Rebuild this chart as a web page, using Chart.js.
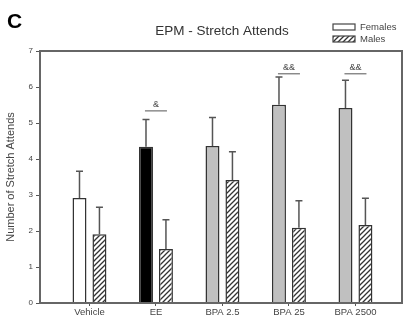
<!DOCTYPE html>
<html lang="en">

<head>
    <meta charset="UTF-8">
    <script src="https://cdn.jsdelivr.net/npm/chart.js@4.4.0/dist/chart.umd.min.js"></script>
    <title>EPM - Stretch Attends</title>
    <style>
        body { margin: 0; background: #fff; }
        canvas { display: block; }
    </style>
</head>

<body>
    <canvas id="myChart" width="406" height="323"></canvas>
    <script>

        // values
        const groups = ['Vehicle', 'EE', 'BPA 2.5', 'BPA 25', 'BPA 2500'];
        const females = [2.92, 4.34, 4.36, 5.51, 5.42];
        const femalesErr = [3.66, 5.10, 5.15, 6.28, 6.19];   // top of error bar
        const males = [1.91, 1.50, 3.42, 2.09, 2.17];
        const malesErr = [2.66, 2.31, 4.20, 2.84, 2.91];
        const femaleColors = ['#ffffff', '#000000', '#c0c0c0', '#c0c0c0', '#c0c0c0'];
        const sigLabels = ['', '&', '', '&&', '&&'];
        const sigLevel = [0, 5.35, 0, 6.38, 6.38];
        const yTicks = [0, 1, 2, 3, 4, 5, 6, 7];

        // diagonal hatch for the males
        function hatch() {
            const c = document.createElement('canvas');
            c.width = 5; c.height = 5;
            const g = c.getContext('2d');
            g.fillStyle = '#fff';
            g.fillRect(0, 0, 5, 5);
            g.strokeStyle = '#333';
            g.lineWidth = 1.3;
            g.beginPath();
            g.moveTo(-1, 6); g.lineTo(6, -1);
            g.moveTo(-1, 1); g.lineTo(1, -1);
            g.moveTo(4, 6); g.lineTo(6, 4);
            g.stroke();
            return g.createPattern(c, 'repeat');
        }
        const ctx = document.getElementById('myChart').getContext('2d');
        const malePattern = hatch();

        // frame, error bars, significance marks, title, legend
        const decor = {
            id: 'decor',
            afterDatasetsDraw(chart) {
                const c = chart.ctx, a = chart.chartArea;
                const xs = chart.scales.x, ys = chart.scales.y;
                c.save();
                // error bars
                c.strokeStyle = '#555';
                c.lineWidth = 1.5;
                [femalesErr, malesErr].forEach((err, d) => {
                    chart.getDatasetMeta(d).data.forEach((bar, i) => {
                        const top = ys.getPixelForValue(err[i]);
                        c.beginPath();
                        c.moveTo(bar.x, bar.y);
                        c.lineTo(bar.x, top);
                        c.moveTo(bar.x - 3.5, top);
                        c.lineTo(bar.x + 3.5, top);
                        c.stroke();
                    });
                });
                // significance
                c.fillStyle = '#444';
                c.font = '9px "Liberation Sans", Arial, sans-serif';
                c.textAlign = 'center';
                c.textBaseline = 'bottom';
                c.lineWidth = 1;
                sigLabels.forEach((s, i) => {
                    if (!s) return;
                    const x = xs.getPixelForValue(i);
                    const y = ys.getPixelForValue(sigLevel[i]);
                    c.fillText(s, x, y - 1);
                    c.beginPath();
                    c.moveTo(x - 11, y + 0.5);
                    c.lineTo(x + 11, y + 0.5);
                    c.stroke();
                });
                // frame
                c.strokeStyle = '#666';
                c.lineWidth = 2;
                c.strokeRect(a.left, a.top, a.right - a.left, a.bottom - a.top);
                // panel letter and title
                c.fillStyle = '#000';
                c.textAlign = 'left';
                c.textBaseline = 'alphabetic';
                c.font = 'bold 21px "Liberation Sans", Arial, sans-serif';
                c.fillText('C', 7, 28);
                c.fillStyle = '#333';
                c.textAlign = 'center';
                c.textBaseline = 'middle';
                c.font = '13.5px "Liberation Sans", Arial, sans-serif';
                c.fillText('EPM - Stretch Attends', 222, 31);
                // legend
                c.lineWidth = 1.2;
                c.strokeStyle = '#444';
                c.fillStyle = '#fff';
                c.fillRect(333, 24, 22, 6);
                c.strokeRect(333, 24, 22, 6);
                c.fillStyle = malePattern;
                c.fillRect(333, 36, 22, 6);
                c.strokeRect(333, 36, 22, 6);
                c.fillStyle = '#444';
                c.textAlign = 'left';
                c.font = '9.5px "Liberation Sans", Arial, sans-serif';
                c.fillText('Females', 360, 27);
                c.fillText('Males', 360, 39.5);
                c.restore();
            }
        };

        const myChart = new Chart(ctx, {
            type: 'bar',
            data: {
                datasets: [{
                    label: 'Females',
                    data: females.map((v, i) => ({ x: i, y: v })),
                    backgroundColor: femaleColors,
                    borderColor: '#333',
                    borderWidth: 1.5
                }, {
                    label: 'Males',
                    data: males.map((v, i) => ({ x: i, y: v })),
                    backgroundColor: malePattern,
                    borderColor: '#333',
                    borderWidth: 1.5
                }]
            },
            options: {
                responsive: false,
                animation: false,
                categoryPercentage: 0.6,
                barPercentage: 0.7,
                layout: { padding: { top: 51, right: 4, left: 4, bottom: 0 } },
                plugins: {
                    legend: { display: false },
                    tooltip: { enabled: false }
                },
                scales: {
                    x: {
                        type: 'linear',
                        offset: false,
                        min: -0.744,
                        max: 4.7,
                        afterBuildTicks: s => { s.ticks = groups.map((g, i) => ({ value: i })); },
                        afterFit: s => { s.height = 20; },
                        grid: { offset: false, drawOnChartArea: false, tickLength: 3, color: '#555', lineWidth: 1 },
                        border: { display: false },
                        ticks: {
                            callback: v => groups[v],
                            color: '#444',
                            padding: 1,
                            maxRotation: 0,
                            autoSkip: false,
                            font: { family: '"Liberation Sans", Arial, sans-serif', size: 9.5 }
                        }
                    },
                    y: {
                        min: 0,
                        max: 7,
                        afterBuildTicks: s => { s.ticks = yTicks.map(v => ({ value: v })); },
                        afterFit: s => { s.width = 36; },
                        grid: { drawOnChartArea: false, tickLength: 4, color: '#555', lineWidth: 1 },
                        border: { display: false },
                        title: {
                            display: true,
                            text: 'Number of Stretch Attends',
                            color: '#444',
                            padding: { top: 0, bottom: 0 },
                            font: { family: '"Liberation Sans", Arial, sans-serif', size: 11 }
                        },
                        ticks: {
                            color: '#444',
                            padding: 3,
                            font: { family: '"Liberation Sans", Arial, sans-serif', size: 8 }
                        }
                    }
                }
            },
            plugins: [decor]
        });

    </script>

</body>

</html>
